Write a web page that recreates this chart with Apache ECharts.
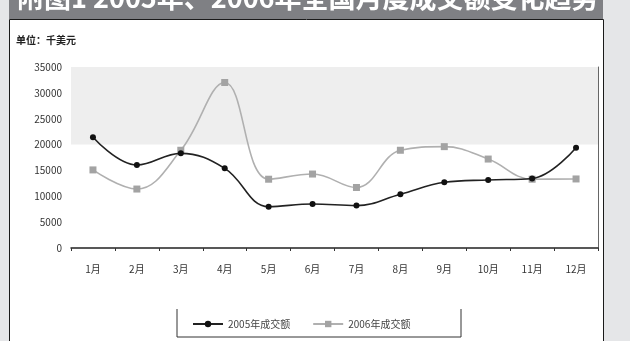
<!DOCTYPE html>
<html>
<head>
<meta charset="utf-8">
<script src="https://cdn.jsdelivr.net/npm/echarts@6/dist/echarts.min.js"></script>
<style>
  html, body { margin: 0; padding: 0; background: #e5e6e8; }
  #chart { width: 630px; height: 341px; }
</style>
</head>
<body>
<div id="chart"></div>
<script>
// Months on the category axis
const months = ['1月', '2月', '3月', '4月', '5月', '6月', '7月', '8月', '9月', '10月', '11月', '12月'];
// Monthly turnover, thousand US dollars
const turnover2005 = [21400, 16050, 18300, 15400, 8000, 8500, 8200, 10400, 12700, 13150, 13450, 19400];
const turnover2006 = [15100, 11400, 18900, 32000, 13300, 14300, 11700, 18900, 19600, 17200, 13300, 13350];
// Value axis ticks
const yTicks = [0, 5000, 10000, 15000, 20000, 25000, 30000, 35000];
const seriesNames = ['2005年成交额', '2006年成交额'];
const titleText = '附图1 2005年、2006年全国月度成交额变化趋势';
const unitText = '单位：千美元';
// Shaded value band
const bandRange = [20000, 35000];

const chart = echarts.init(document.getElementById('chart'), null, { renderer: 'canvas' });
const font = '"Noto Sans CJK SC", "DejaVu Sans", sans-serif';

chart.setOption({
  backgroundColor: '#e5e6e8',
  animation: false,
  textStyle: { fontFamily: font },
  graphic: [
    // white panel
    { type: 'rect', left: 9, top: 19, shape: { width: 594, height: 330 },
      style: { fill: '#ffffff', stroke: '#1a1a1a', lineWidth: 1 }, z: -10 },
    // heading banner
    { type: 'rect', left: 9, top: 0, shape: { width: 594, height: 19 },
      style: { fill: '#7f8084' }, z: -9 },
    { type: 'text', x: 17, y: -2,
      style: { text: titleText, fill: '#ffffff', font: 'bold 27px ' + font,
               textVerticalAlign: 'middle', textAlign: 'left' }, z: 5 },
    { type: 'text', x: 16, y: 40,
      style: { text: unitText, fill: '#222', font: 'bold 10px ' + font,
               textVerticalAlign: 'middle' }, z: 5 },
    // legend frame (left, bottom, right)
    { type: 'polyline', shape: { points: [[177, 309], [177, 337], [461, 337], [461, 309]] },
      style: { stroke: '#333', lineWidth: 1, fill: null }, z: 5 }
  ],
  legend: {
    data: seriesNames,
    left: 187,
    top: 314,
    itemWidth: 30,
    itemHeight: 8,
    itemGap: 22,
    textStyle: { fontSize: 10, color: '#444', fontFamily: font }
  },
  grid: { left: 71, right: 32, top: 67, bottom: 93 },
  xAxis: {
    type: 'category',
    data: months,
    boundaryGap: true,
    axisLine: { lineStyle: { color: '#222', width: 1.5 } },
    axisTick: { show: true, length: 3, lineStyle: { color: '#333' } },
    axisLabel: { color: '#333', fontSize: 10, margin: 16, fontFamily: font }
  },
  yAxis: [
    {
      type: 'value',
      min: yTicks[0],
      max: yTicks[yTicks.length - 1],
      interval: yTicks[1] - yTicks[0],
      axisLine: { show: false },
      axisTick: { show: false },
      splitLine: { show: false },
      axisLabel: { color: '#333', fontSize: 10, margin: 9, fontFamily: font,
                   formatter: v => String(v) }
    },
    {
      type: 'value',
      position: 'right',
      min: yTicks[0],
      max: yTicks[yTicks.length - 1],
      interval: yTicks[1] - yTicks[0],
      axisLine: { show: true, lineStyle: { color: '#666', width: 1 } },
      axisTick: { show: false },
      axisLabel: { show: false },
      splitLine: { show: false }
    }
  ],
  series: [
    {
      name: seriesNames[0],
      type: 'line',
      data: turnover2005,
      smooth: 0.4,
      symbol: 'circle',
      symbolSize: 6,
      itemStyle: { color: '#111' },
      lineStyle: { color: '#222', width: 1.6 },
      z: 4,
      markArea: {
        silent: true,
        itemStyle: { color: '#eeeeee' },
        data: [[{ yAxis: bandRange[0] }, { yAxis: bandRange[1] }]]
      }
    },
    {
      name: seriesNames[1],
      type: 'line',
      data: turnover2006,
      smooth: 0.4,
      symbol: 'rect',
      symbolSize: 7,
      itemStyle: { color: '#a3a3a3' },
      lineStyle: { color: '#b0b0b0', width: 1.6 },
      z: 3
    }
  ]
});
</script>
</body>
</html>
